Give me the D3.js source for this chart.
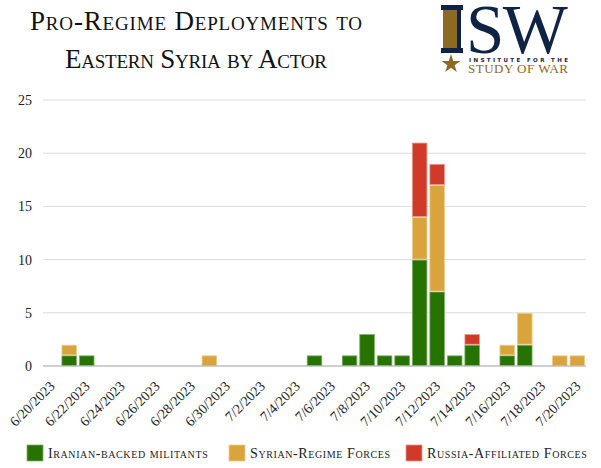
<!DOCTYPE html>
<html>
<head>
<meta charset="utf-8">
<script src="https://cdn.jsdelivr.net/npm/d3@7"></script>
<style>
  html, body { margin: 0; padding: 0; background: #fff; }
  svg { display: block; }
  text { font-family: "Liberation Serif", "DejaVu Serif", serif; }
</style>
</head>
<body>
<svg id="chart" width="601" height="468"></svg>
<script>
// 数据
const dates = ["6/20/2023","6/21/2023","6/22/2023","6/23/2023","6/24/2023","6/25/2023","6/26/2023",
  "6/27/2023","6/28/2023","6/29/2023","6/30/2023","7/1/2023","7/2/2023","7/3/2023","7/4/2023",
  "7/5/2023","7/6/2023","7/7/2023","7/8/2023","7/9/2023","7/10/2023","7/11/2023","7/12/2023",
  "7/13/2023","7/14/2023","7/15/2023","7/16/2023","7/17/2023","7/18/2023","7/19/2023","7/20/2023"];
const iranian = [0,1,1,0,0,0,0,0,0,0,0,0,0,0,0,1,0,1,3,1,1,10,7,1,2,0,1,2,0,0,0];
const syrian  = [0,1,0,0,0,0,0,0,0,1,0,0,0,0,0,0,0,0,0,0,0,4,10,0,0,0,1,3,0,1,1];
const russia  = [0,0,0,0,0,0,0,0,0,0,0,0,0,0,0,0,0,0,0,0,0,7,2,0,1,0,0,0,0,0,0];
const seriesNames = ["Iranian-backed militants", "Syrian-Regime Forces", "Russia-Affiliated Forces"];
const colors = ["#267300", "#d9a43b", "#d13a28"];
const strokes = ["#7fb06a", "#f0cd8a", "#eb9a8e"];
const yTicks = [0, 5, 10, 15, 20, 25];
const titleLines = ["Pro-Regime Deployments to", "Eastern Syria by Actor"];

const svg = d3.select("#chart");

// 标题
const titleWidths = [332, 262];
const title = svg.append("g").attr("class", "title");
titleLines.forEach((t, i) => {
  title.append("text")
    .attr("x", 196)
    .attr("y", 30 + i * 38)
    .attr("text-anchor", "middle")
    .attr("textLength", titleWidths[i])
    .style("font-size", "27px")
    .style("font-variant", "small-caps")
    .attr("fill", "#111")
    .text(t);
});

// ISW 标志
const logo = svg.append("g").attr("class", "logo");
const navy = "#0f2444", gold = "#8c6a22";
logo.append("rect").attr("x", 443).attr("y", 9).attr("width", 18).attr("height", 41).attr("fill", gold);
logo.append("rect").attr("x", 457).attr("y", 9).attr("width", 4).attr("height", 41).attr("fill", navy);
logo.append("rect").attr("x", 441).attr("y", 5).attr("width", 22).attr("height", 5).attr("fill", navy);
logo.append("rect").attr("x", 441).attr("y", 48).attr("width", 22).attr("height", 5).attr("fill", navy);
logo.append("text")
  .attr("x", 466).attr("y", 53)
  .style("font-size", "69px")
  .attr("fill", navy)
  .attr("textLength", 102)
  .text("SW");
const star = d3.symbol().type(d3.symbolStar).size(110);
logo.append("path").attr("d", star()).attr("transform", "translate(451,64)").attr("fill", gold);
logo.append("text")
  .attr("x", 469).attr("y", 62)
  .style("font-family", "'DejaVu Sans', sans-serif")
  .style("font-size", "5.5px")
  .style("font-weight", "bold")
  .attr("fill", navy)
  .attr("textLength", 99)
  .text("INSTITUTE FOR THE");
logo.append("text")
  .attr("x", 468).attr("y", 73)
  .style("font-size", "13px")
  .attr("fill", gold)
  .attr("textLength", 100)
  .text("STUDY OF WAR");

// 比例尺
const x = d3.scaleBand().domain(dates).range([43, 586]).paddingInner(0.11).paddingOuter(0.05);
const y = d3.scaleLinear().domain([0, 25]).range([366, 100]);

// 网格线
svg.append("g").attr("class", "grid")
  .selectAll("line")
  .data(yTicks.filter(d => d > 0))
  .join("line")
  .attr("x1", 43).attr("x2", 586)
  .attr("y1", d => y(d)).attr("y2", d => y(d))
  .attr("stroke", "#dcdcdc").attr("stroke-width", 1);

// Y轴标签
svg.append("g").attr("class", "y-labels")
  .selectAll("text")
  .data(yTicks)
  .join("text")
  .attr("x", 32)
  .attr("y", d => y(d) + 5)
  .attr("text-anchor", "end")
  .style("font-size", "14px")
  .attr("fill", "#222")
  .text(d => d);

// 堆叠柱
const rows = dates.map((d, i) => ({ date: d, s0: iranian[i], s1: syrian[i], s2: russia[i] }));
const stacked = d3.stack().keys(["s0", "s1", "s2"])(rows);

svg.append("g").attr("class", "bars")
  .selectAll("g")
  .data(stacked)
  .join("g")
  .attr("fill", (d, i) => colors[i])
  .attr("stroke", (d, i) => strokes[i])
  .selectAll("rect")
  .data(d => d.filter(p => p[1] > p[0]))
  .join("rect")
  .attr("x", d => x(d.data.date) + 0.5)
  .attr("y", d => y(d[1]) + 0.5)
  .attr("width", x.bandwidth() - 1)
  .attr("height", d => y(d[0]) - y(d[1]) - 1)
  .attr("stroke-width", 0.8);

// 基线
svg.append("line")
  .attr("x1", 43).attr("x2", 586)
  .attr("y1", y(0)).attr("y2", y(0))
  .attr("stroke", "#a0a0a0").attr("stroke-width", 1.2);

// X轴标签（每隔一天）
svg.append("g").attr("class", "x-labels")
  .selectAll("text")
  .data(dates.filter((d, i) => i % 2 === 0))
  .join("text")
  .attr("transform", d => `translate(${x(d) + x.bandwidth() / 2 + 4},${y(0) + 21}) rotate(-45)`)
  .attr("text-anchor", "end")
  .style("font-size", "14px")
  .attr("fill", "#222")
  .text(d => d);

// 图例
const legendX = [27, 229, 406];
const legend = svg.append("g").attr("class", "legend")
  .selectAll("g")
  .data(seriesNames)
  .join("g")
  .attr("transform", (d, i) => `translate(${legendX[i]},445)`);
legend.append("rect")
  .attr("width", 16).attr("height", 16)
  .attr("fill", (d, i) => colors[i])
  .attr("stroke", (d, i) => strokes[i]).attr("stroke-width", 0.8);
legend.append("text")
  .attr("x", 21).attr("y", 13)
  .style("font-size", "14px")
  .style("font-variant", "small-caps")
  .style("letter-spacing", "0.6px")
  .attr("fill", "#222")
  .text(d => d);
</script>
</body>
</html>
